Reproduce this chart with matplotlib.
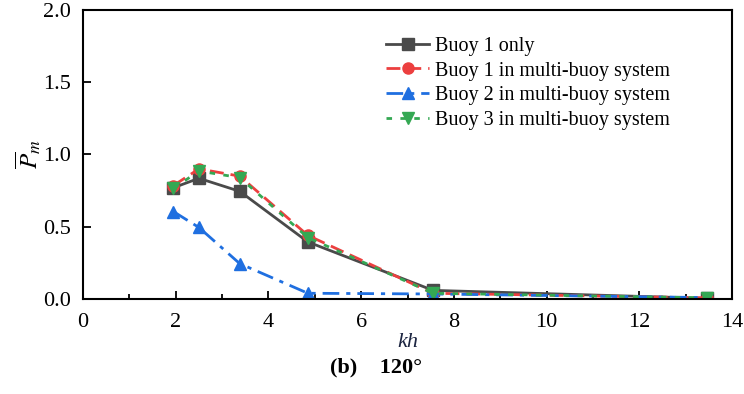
import matplotlib.pyplot as plt
from matplotlib.ticker import MultipleLocator

plt.rcParams['font.family'] = ['Liberation Serif', 'DejaVu Serif']
plt.rcParams['mathtext.fontset'] = 'stix'

# kh values and mean power for each case
kh = [1.95, 2.5, 3.38, 4.85, 7.55, 13.45]
buoy1_only = [0.77, 0.835, 0.745, 0.395, 0.06, 0.005]
buoy1_multi = [0.785, 0.90, 0.85, 0.44, 0.04, 0.008]
buoy2_multi = [0.605, 0.495, 0.245, 0.04, 0.035, 0.01]
buoy3_multi = [0.765, 0.885, 0.84, 0.425, 0.04, 0.008]

labels = ['Buoy 1 only', 'Buoy 1 in multi-buoy system',
          'Buoy 2 in multi-buoy system', 'Buoy 3 in multi-buoy system']

fig = plt.figure(figsize=(7.44, 3.94), dpi=100)
ax = fig.add_axes([0.1116, 0.241, 0.8724, 0.734])

ax.plot(kh, buoy1_only, color='#4a4a4a', ls='-', lw=2, marker='s', ms=8, label=labels[0])
ax.plot(kh, buoy1_multi, color='#ec3f3f', ls=(0, (5, 2.5)), lw=2, marker='o', ms=8, label=labels[1])
ax.plot(kh, buoy2_multi, color='#1f6fe0', ls=(0, (6, 2.5, 1.5, 2.5)), lw=2, marker='^', ms=9, label=labels[2])
ax.plot(kh, buoy3_multi, color='#34a853', ls=(0, (2, 3)), lw=2, marker='v', ms=9, label=labels[3])

ax.set_xlim(0, 14)
ax.set_ylim(0, 2.0)
ax.xaxis.set_major_locator(MultipleLocator(2))
ax.xaxis.set_minor_locator(MultipleLocator(1))
ax.yaxis.set_major_locator(MultipleLocator(0.5))
ax.tick_params(which='both', direction='in', labelsize=16, width=1.3)
ax.tick_params(which='major', length=6)
ax.tick_params(which='minor', length=3.5)
ax.tick_params(axis='x', pad=10)
ax.tick_params(axis='y', pad=9)
for s in ax.spines.values():
    s.set_linewidth(1.5)

ax.set_xlabel('kh', fontsize=16, style='italic', color='#1c2541', labelpad=1)
ax.set_ylabel(r'$\overline{P}_m$', fontsize=18, labelpad=0)

ax.legend(loc='upper left', bbox_to_anchor=(0.455, 0.935), frameon=False, fontsize=14.5,
          handlelength=2.1, handletextpad=0.3, labelspacing=0.28, borderaxespad=0)

fig.text(0.505, 0.055, '(b)    120°', fontsize=16, fontweight='bold', ha='center')

fig.savefig('out.png', dpi=100)
